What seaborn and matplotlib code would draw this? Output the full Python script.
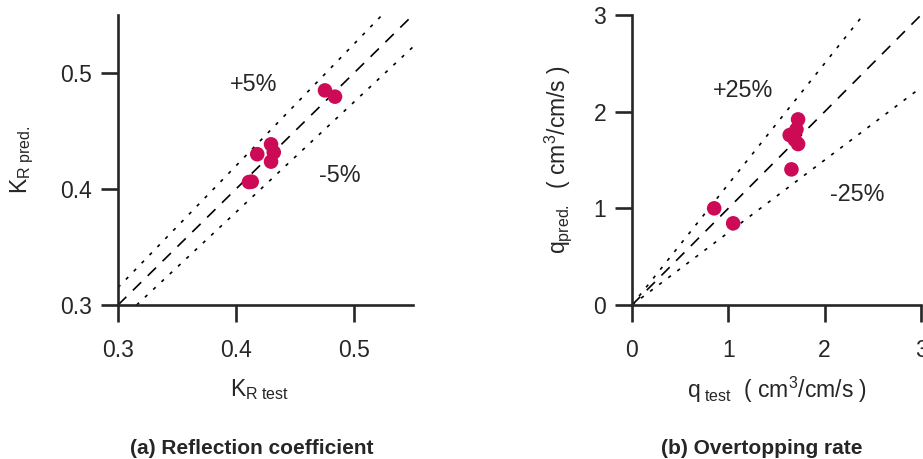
import matplotlib
matplotlib.use("Agg")
import matplotlib.pyplot as plt
import seaborn as sns
import pandas as pd

# Data: (a) reflection coefficient
kr_test = [0.4754, 0.4839, 0.418, 0.4297, 0.432, 0.4297, 0.4133, 0.411]
kr_pred = [0.485, 0.4796, 0.430, 0.4385, 0.4316, 0.4236, 0.4063, 0.406]
# Data: (b) overtopping rate
q_test = [1.724, 1.707, 1.637, 1.724, 1.69, 1.655, 0.853, 1.05]
q_pred = [1.92, 1.816, 1.758, 1.665, 1.71, 1.403, 1.00, 0.845]

band_a = 0.05
band_b = 0.25
ticks_a = [0.3, 0.4, 0.5]
ticks_b = [0, 1, 2, 3]

sns.set_style("ticks")
plt.rcParams['font.family'] = ['Liberation Sans', 'DejaVu Sans']
plt.rcParams['mathtext.fontset'] = 'custom'
plt.rcParams['mathtext.rm'] = 'Liberation Sans'
plt.rcParams['mathtext.it'] = 'Liberation Sans'

RED = '#CC0A55'
fig = plt.figure(figsize=(9.23, 4.59), dpi=100)
W, H = 923, 459


def px_axes(x0, x1, ytop, ybot):
    return fig.add_axes([x0 / W, (H - ybot) / H, (x1 - x0) / W, (ybot - ytop) / H])


axa = px_axes(118, 413, 15, 305)
axb = px_axes(632, 921, 15, 305)

dfa = pd.DataFrame({'x': kr_test, 'y': kr_pred})
dfb = pd.DataFrame({'x': q_test, 'y': q_pred})

for ax, df, band, lim, ticks in [(axa, dfa, band_a, (0.3, 0.55), ticks_a),
                                  (axb, dfb, band_b, (0, 3), ticks_b)]:
    ax.axline((0, 0), slope=1, color='black', lw=1.2, dashes=(7, 5.5), zorder=1)
    ax.axline((0, 0), slope=1 + band, color='black', lw=1.2, dashes=(2, 4.8), zorder=1)
    ax.axline((0, 0), slope=1 - band, color='black', lw=1.2, dashes=(2, 4.8), zorder=1)
    sns.scatterplot(data=df, x='x', y='y', ax=ax, color=RED, s=110,
                    edgecolor='none', zorder=3, clip_on=False)
    ax.set_xlim(*lim)
    ax.set_ylim(*lim)
    ax.set_xticks(ticks)
    ax.set_yticks(ticks)
    ax.set_xticklabels([str(t) for t in ticks])
    ax.set_yticklabels([str(t) for t in ticks])
    for s in ['top', 'right']:
        ax.spines[s].set_visible(False)
    for s in ['left', 'bottom']:
        ax.spines[s].set_linewidth(1.9)
    ax.tick_params(axis='both', direction='out', length=12.5, width=1.9,
                   labelsize=16.5)
    ax.tick_params(axis='x', pad=12)
    ax.tick_params(axis='y', pad=6)
    ax.set_xlabel('')
    ax.set_ylabel('')
    ax.set_facecolor('white')

# annotations
axa.text(0.415, 0.4897, '+5%', fontsize=16.8, ha='center', va='center')
axa.text(0.488, 0.412, '-5%', fontsize=16.8, ha='center', va='center')
axb.text(1.15, 2.22, '+25%', fontsize=16.8, ha='center', va='center')
axb.text(2.34, 1.14, '-25%', fontsize=16.8, ha='center', va='center')

# axis labels
fig.text(260 / W, 1 - 390 / H, r'$\mathregular{K_{R\ test}}$', fontsize=16.5,
         ha='center', va='center')
fig.text(22 / W, 1 - 160 / H, r'$\mathregular{K_{R\ pred.}}$', fontsize=16.5,
         ha='center', va='center', rotation=90)
fig.text(777 / W, 1 - 390 / H,
         r'$\mathregular{q_{\ test}\ \ (\ cm^{3}/cm/s\ )}$', fontsize=16.5,
         ha='center', va='center')
fig.text(558 / W, 1 - 160 / H,
         r'$\mathregular{q_{pred.}\ \ (\ cm^{3}/cm/s\ )}$', fontsize=16.5,
         ha='center', va='center', rotation=90)

# panel titles
fig.text(252 / W, 1 - 448 / H, '(a) Reflection coefficient', fontsize=15,
         fontweight='bold', ha='center', va='center')
fig.text(762 / W, 1 - 448 / H, '(b) Overtopping rate', fontsize=15,
         fontweight='bold', ha='center', va='center')

fig.savefig('out.png', dpi=100, facecolor='white')
